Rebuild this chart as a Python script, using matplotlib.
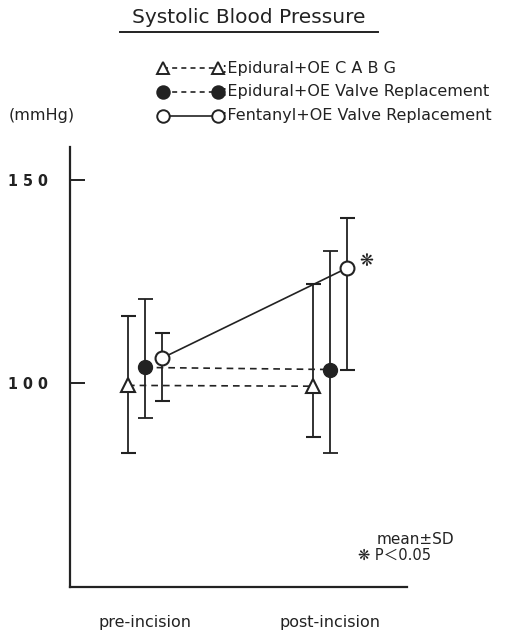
import matplotlib.pyplot as plt
import numpy as np

plt.rcParams['font.family'] = ['DejaVu Sans', 'Noto Sans CJK JP']

# data (mmHg): mean, lower end, upper end of the bars
phases = ['pre-incision', 'post-incision']
epi_cabg_mean = [99.5, 99.3]
epi_cabg_low = [83.0, 86.9]
epi_cabg_high = [116.5, 124.4]
epi_valve_mean = [103.9, 103.4]
epi_valve_low = [91.4, 82.8]
epi_valve_high = [120.7, 132.5]
fent_valve_mean = [106.2, 128.3]
fent_valve_low = [95.6, 103.4]
fent_valve_high = [112.3, 140.6]
ytick_vals = [100, 150]
ytick_labels = ['1 0 0', '1 5 0']

ink = '#222222'
x = np.arange(len(phases))
dx = 0.092


def err(mean, low, high):
    m = np.array(mean)
    return [m - np.array(low), np.array(high) - m]


fig = plt.figure(figsize=(5.19, 6.32), dpi=100)
ax = fig.add_axes([0.135, 0.0712, 0.649, 0.696])

ax.errorbar(x - dx, epi_cabg_mean, yerr=err(epi_cabg_mean, epi_cabg_low, epi_cabg_high),
            color=ink, linestyle=(0, (4, 3)), linewidth=1.2, marker='^', markersize=10,
            markerfacecolor='white', markeredgecolor=ink, markeredgewidth=1.5,
            capsize=5.4, elinewidth=1.3, capthick=1.3)
ax.errorbar(x, epi_valve_mean, yerr=err(epi_valve_mean, epi_valve_low, epi_valve_high),
            color=ink, linestyle=(0, (4, 3)), linewidth=1.2, marker='o', markersize=10,
            markerfacecolor=ink, markeredgecolor=ink, capsize=5.4, elinewidth=1.3, capthick=1.3)
ax.errorbar(x + dx, fent_valve_mean, yerr=err(fent_valve_mean, fent_valve_low, fent_valve_high),
            color=ink, linestyle='-', linewidth=1.2, marker='o', markersize=10,
            markerfacecolor='white', markeredgecolor=ink, markeredgewidth=1.5,
            capsize=5.4, elinewidth=1.3, capthick=1.3)

ax.text(x[1] + dx + 0.065, fent_valve_mean[1] + 1.8, '❋', fontsize=12, color=ink,
        ha='left', va='center')

ax.set_xlim(-0.405, 1.416)
ax.set_ylim(50, 158)
for s in ['top', 'right']:
    ax.spines[s].set_visible(False)
for s in ['left', 'bottom']:
    ax.spines[s].set_linewidth(1.6)
    ax.spines[s].set_color(ink)

ax.set_yticks(ytick_vals)
ax.set_yticklabels(ytick_labels, fontsize=11.5, fontweight='bold', fontstretch='condensed', color=ink)
ax.tick_params(axis='y', direction='in', length=11, width=1.4, color=ink, pad=16)
ax.set_xticks(x)
ax.set_xticklabels(phases, fontsize=11.5, color=ink)
ax.tick_params(axis='x', length=0, pad=20)

# title with underline
fig.text(0.48, 0.972, 'Systolic Blood Pressure', fontsize=14.5, color=ink, ha='center', va='center')
fig.add_artist(plt.Line2D([0.231, 0.728], [0.949, 0.949], color=ink, linewidth=1.4))

fig.text(0.016, 0.818, '(mmHg)', fontsize=11.5, color=ink, ha='left', va='center')

# legend drawn by hand
leg_y = [0.892, 0.855, 0.817]
leg_text = [':Epidural+OE C A B G', ':Epidural+OE Valve Replacement', ':Fentanyl+OE Valve Replacement']
leg_style = [((0, (3, 2.5)), '^', 'white'), ((0, (3, 2.5)), 'o', ink), ('-', 'o', 'white')]
for yy, txt, (ls, mk, fc) in zip(leg_y, leg_text, leg_style):
    fig.add_artist(plt.Line2D([0.314, 0.42], [yy, yy], color=ink, linewidth=1.2, linestyle=ls,
                              marker=mk, markersize=9, markerfacecolor=fc, markeredgecolor=ink,
                              markeredgewidth=1.4))
    fig.text(0.428, yy, txt, fontsize=11.5, color=ink, ha='left', va='center')

fig.text(0.726, 0.146, 'mean±SD', fontsize=11, color=ink, ha='left', va='center')
fig.text(0.69, 0.121, '❋ P＜0.05', fontsize=10.5, color=ink, ha='left', va='center')

fig.savefig('out.png', dpi=100)
